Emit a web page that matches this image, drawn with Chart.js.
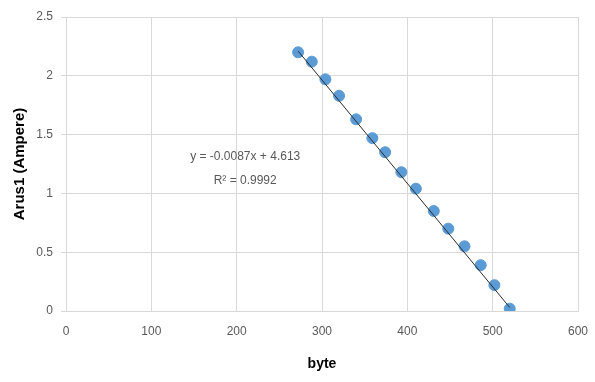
<!DOCTYPE html>
<html>
<head>
<meta charset="utf-8">
<script src="https://cdn.jsdelivr.net/npm/chart.js@4.4.1/dist/chart.umd.min.js"></script>
<style>
  html, body { margin: 0; padding: 0; background: #fff; }
  #wrap { position: relative; width: 595px; height: 382px; }
</style>
</head>
<body>
<div id="wrap"><canvas id="chart"></canvas></div>
<script>
// measured points (byte vs current)
const byteValues = [272, 288, 304, 320, 340, 359, 374, 393, 410, 431, 448, 467, 486, 502, 520];
const currentValues = [2.20, 2.12, 1.97, 1.83, 1.63, 1.47, 1.35, 1.18, 1.04, 0.85, 0.70, 0.55, 0.39, 0.22, 0.02];

// linear trendline end points, as drawn on the chart
const trendX = [272, 520];
const trendY = [2.21, 0.03];

const equationLines = ['y = -0.0087x + 4.613', 'R\u00b2 = 0.9992'];
const equationAnchor = { x: 210, y: [1.31, 1.105] };

const xTicks = [0, 100, 200, 300, 400, 500, 600];
const yTicks = [0, 0.5, 1, 1.5, 2, 2.5];

const gridColor = '#d9d9d9';
const textColor = '#595959';
const fontFamily = "'Liberation Sans', Arial, sans-serif";

const equationLabel = {
  id: 'equationLabel',
  afterDatasetsDraw(chart) {
    const { ctx, scales } = chart;
    ctx.save();
    ctx.font = '12px ' + fontFamily;
    ctx.fillStyle = textColor;
    ctx.textAlign = 'center';
    ctx.textBaseline = 'middle';
    equationLines.forEach((line, i) => {
      ctx.fillText(line, scales.x.getPixelForValue(equationAnchor.x), scales.y.getPixelForValue(equationAnchor.y[i]));
    });
    ctx.restore();
  }
};

new Chart(document.getElementById('chart'), {
  type: 'scatter',
  data: {
    datasets: [
      {
        label: 'Linear',
        type: 'line',
        data: trendX.map((x, i) => ({ x, y: trendY[i] })),
        borderColor: '#2b2b2b',
        borderWidth: 1,
        pointRadius: 0,
        fill: false,
      },
      {
        label: 'Arus1',
        data: byteValues.map((x, i) => ({ x, y: currentValues[i] })),
        backgroundColor: '#5b9bd5',
        borderColor: '#5b9bd5',
        pointRadius: 5.5,
        pointHoverRadius: 5.5,
      },
    ],
  },
  options: {
    responsive: true,
    maintainAspectRatio: false,
    animation: false,
    layout: { padding: { left: 0, right: 17, top: 17, bottom: 0 } },
    plugins: {
      legend: { display: false },
      tooltip: { enabled: false },
    },
    scales: {
      x: {
        type: 'linear',
        min: 0,
        max: 600,
        afterBuildTicks: (s) => { s.ticks = xTicks.map((v) => ({ value: v })); },
        afterFit: (s) => { s.height = 71; s.paddingLeft = 0; s.paddingRight = 0; },
        ticks: {
          color: textColor,
          font: { family: fontFamily, size: 12 },
          padding: 13,
          maxRotation: 0,
        },
        grid: { color: gridColor, drawTicks: false },
        border: { color: gridColor },
        title: {
          display: true,
          text: 'byte',
          color: '#000',
          font: { family: fontFamily, size: 14, weight: 'bold' },
          padding: { top: 4, bottom: 9 },
        },
      },
      y: {
        type: 'linear',
        min: 0,
        max: 2.5,
        afterBuildTicks: (s) => { s.ticks = yTicks.map((v) => ({ value: v })); },
        afterFit: (s) => { s.width = 66; s.paddingTop = 0; s.paddingBottom = 0; },
        ticks: {
          color: textColor,
          font: { family: fontFamily, size: 12 },
          padding: 8,
          callback: (v) => String(v),
        },
        grid: { color: gridColor, tickLength: 5 },
        border: { color: gridColor },
        title: {
          display: true,
          text: 'Arus1 (Ampere)',
          color: '#000',
          font: { family: fontFamily, size: 15, weight: 'bold' },
          padding: { top: 11, bottom: 4 },
        },
      },
    },
  },
  plugins: [equationLabel],
});
</script>
</body>
</html>
